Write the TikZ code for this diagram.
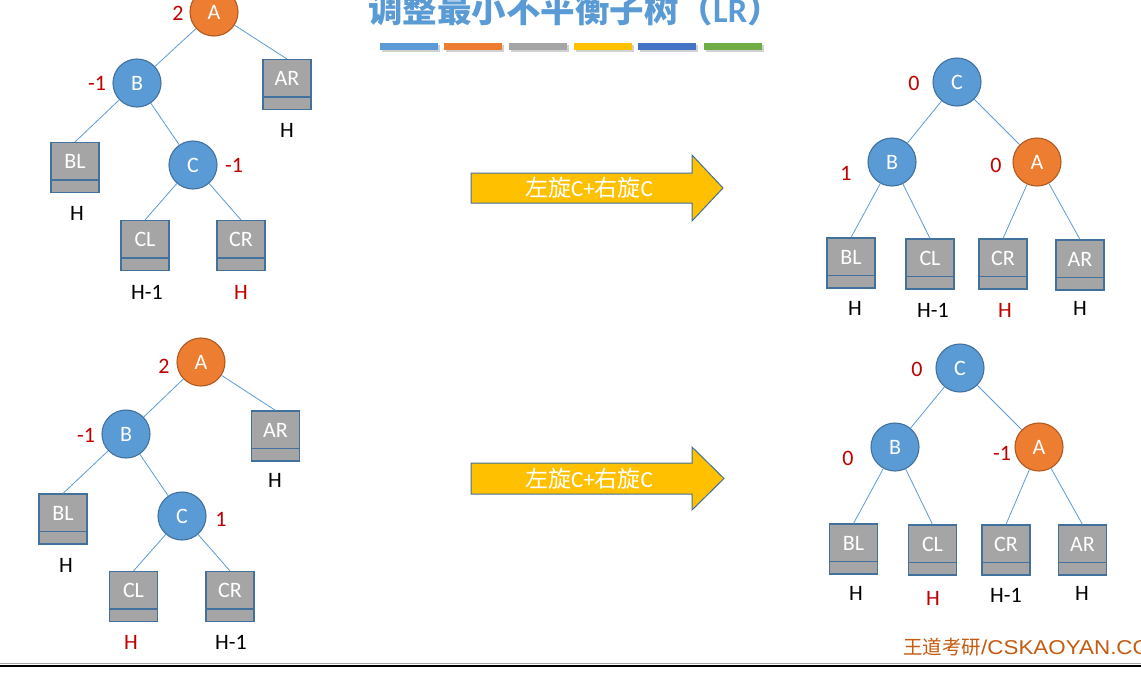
\documentclass[tikz,border=0pt]{standalone}
\usepackage{fontspec}
\setmainfont{Carlito}
\newfontfamily\cjk{Noto Sans CJK SC}
\newfontfamily\arialf[FakeStretch=1.12]{Liberation Sans}
\definecolor{nblue}{HTML}{5B9BD5}
\definecolor{nborder}{HTML}{41719C}
\definecolor{norange}{HTML}{ED7D31}
\definecolor{oborder}{HTML}{AE5A21}
\definecolor{bgray}{HTML}{A5A5A5}
\definecolor{byellow}{HTML}{FFC000}
\definecolor{bdblue}{HTML}{4472C4}
\definecolor{bgreen}{HTML}{70AD47}
\definecolor{bfred}{HTML}{C00000}
\definecolor{wdbrown}{HTML}{C55A11}
\begin{document}
\begin{tikzpicture}[
  x=1pt, y=-1pt,
  every node/.style={font=\fontsize{22}{26}\selectfont, inner sep=0pt},
  nodeb/.style={circle, minimum size=48pt, inner sep=0pt, fill=nblue, draw=nborder, line width=1.1pt, text=white},
  nodeo/.style={nodeb, fill=norange, draw=oborder},
  subtree/.style={rectangle, minimum width=48pt, minimum height=50pt, inner sep=0pt,
    fill=bgray, draw=nborder, line width=1.1pt, text=white, text height=14pt, text depth=12pt,
    path picture={\draw[nborder, line width=1.1pt]
      ([yshift=12.5pt]path picture bounding box.south west) --
      ([yshift=12.5pt]path picture bounding box.south east);}},
  edge/.style={draw=nblue, line width=0.8pt},
  bal/.style={text=bfred},
  hblack/.style={text=black},
  hred/.style={text=bfred},
  bigarrow/.style={fill=byellow, draw=nborder, line width=1pt},
  arrowtext/.style={text=white, font=\fontsize{23}{27}\selectfont},
]
\useasboundingbox (0,0) rectangle (1141,681);
\clip (0,0) rectangle (1141,681);

% title
\node[anchor=base, text=nblue, font=\fontsize{34.5}{38}\selectfont\bfseries] (title) at (575,22.5)
  {{\cjk 调整最小不平衡子树（}LR{\cjk ）}};
% colour bars
\foreach \xa/\col in {380/nblue, 444/norange, 509/bgray, 574/byellow, 638/bdblue, 704/bgreen}{
  \fill[black, opacity=0.18] (\xa+1.5,44.5) rectangle (\xa+59.5,51.5);
  \fill[\col] (\xa,43) rectangle (\xa+58,50);
}

% ---------- top-left tree ----------
\node[nodeo] (tlA) at (214,12) {A};
\node[nodeb] (tlB) at (137,83) {B};
\node[subtree] (tlAR) at (287,84.5) {AR};
\node[subtree] (tlBL) at (75,167.5) {BL};
\node[nodeb] (tlC) at (193,165) {C};
\node[subtree] (tlCL) at (145,245.5) {CL};
\node[subtree] (tlCR) at (241,245.5) {CR};
\node[bal] (tlAb) at (178,13) {2};
\node[bal] (tlBb) at (97,83) {-1};
\node[bal] (tlCb) at (234,165) {-1};
\node[hblack] (tlARh) at (287,130) {H};
\node[hblack] (tlBLh) at (77,213) {H};
\node[hblack] (tlCLh) at (147,292) {H-1};
\node[hred] (tlCRh) at (241,292) {H};
\draw[edge] (tlA) -- (tlB);
\draw[edge] (tlA) -- (tlAR.north);
\draw[edge] (tlB) -- (tlBL.north);
\draw[edge] (tlB) -- (tlC);
\draw[edge] (tlC) -- (tlCL.north);
\draw[edge] (tlC) -- (tlCR.north);

% ---------- top-right tree ----------
\node[nodeb] (trC) at (957,82) {C};
\node[nodeb] (trB) at (892,162) {B};
\node[nodeo] (trA) at (1037,162) {A};
\node[subtree] (trBL) at (851,263) {BL};
\node[subtree] (trCL) at (930,264) {CL};
\node[subtree] (trCR) at (1003,264) {CR};
\node[subtree] (trAR) at (1080,265) {AR};
\node[bal] (trCb) at (914,83) {0};
\node[bal] (trBb) at (846,173) {1};
\node[bal] (trAb) at (996,165) {0};
\node[hblack] (trBLh) at (855,308) {H};
\node[hblack] (trCLh) at (933,310) {H-1};
\node[hred] (trCRh) at (1005,310) {H};
\node[hblack] (trARh) at (1080,308) {H};
\draw[edge] (trC) -- (trB);
\draw[edge] (trC) -- (trA);
\draw[edge] (trB) -- (trBL.north);
\draw[edge] (trB) -- (trCL.north);
\draw[edge] (trA) -- (trCR.north);
\draw[edge] (trA) -- (trAR.north);

% ---------- bottom-left tree ----------
\node[nodeo] (blA) at (201,362) {A};
\node[nodeb] (blB) at (126,434) {B};
\node[subtree] (blAR) at (275.5,436) {AR};
\node[subtree] (blBL) at (63,519) {BL};
\node[nodeb] (blC) at (182,516) {C};
\node[subtree] (blCL) at (133.5,596.5) {CL};
\node[subtree] (blCR) at (230,596.5) {CR};
\node[bal] (blAb) at (164,366) {2};
\node[bal] (blBb) at (86,435) {-1};
\node[bal] (blCb) at (221,519) {1};
\node[hblack] (blARh) at (275,480) {H};
\node[hblack] (blBLh) at (66,565) {H};
\node[hred] (blCLh) at (131,642) {H};
\node[hblack] (blCRh) at (231,642) {H-1};
\draw[edge] (blA) -- (blB);
\draw[edge] (blA) -- (blAR.north);
\draw[edge] (blB) -- (blBL.north);
\draw[edge] (blB) -- (blC);
\draw[edge] (blC) -- (blCL.north);
\draw[edge] (blC) -- (blCR.north);

% ---------- bottom-right tree ----------
\node[nodeb] (brC) at (960,368) {C};
\node[nodeb] (brB) at (895,447) {B};
\node[nodeo] (brA) at (1039,447) {A};
\node[subtree] (brBL) at (853.5,549) {BL};
\node[subtree] (brCL) at (932.5,550) {CL};
\node[subtree] (brCR) at (1006,550) {CR};
\node[subtree] (brAR) at (1082.5,550) {AR};
\node[bal] (brCb) at (917,369) {0};
\node[bal] (brBb) at (848,458) {0};
\node[bal] (brAb) at (1002,453) {-1};
\node[hblack] (brBLh) at (856,593) {H};
\node[hred] (brCLh) at (933,598) {H};
\node[hblack] (brCRh) at (1006,595) {H-1};
\node[hblack] (brARh) at (1082,593) {H};
\draw[edge] (brC) -- (brB);
\draw[edge] (brC) -- (brA);
\draw[edge] (brB) -- (brBL.north);
\draw[edge] (brB) -- (brCL.north);
\draw[edge] (brA) -- (brCR.north);
\draw[edge] (brA) -- (brAR.north);

% ---------- arrows ----------
\draw[bigarrow] (471,173) -- (692,173) -- (692,155) -- (723,188) -- (692,221) -- (692,203) -- (471,203) -- cycle;
\node[arrowtext] (arr1) at (589,188) {{\cjk 左旋}C+{\cjk 右旋}C};
\draw[bigarrow] (471,463) -- (692,463) -- (692,447) -- (724,478.5) -- (692,510) -- (692,494) -- (471,494) -- cycle;
\node[arrowtext] (arr2) at (589,479) {{\cjk 左旋}C+{\cjk 右旋}C};

% ---------- footer ----------
\node[anchor=west, text=wdbrown, font=\fontsize{19.5}{22}\selectfont] (brand) at (903,647)
  {{\cjk 王道考研}{\arialf\fontsize{20}{22}\selectfont /CSKAOYAN.COM}};
\draw[gray!70, line width=1.3pt] (0,663.5) -- (1141,663.5);
\draw[black, line width=2.6pt] (0,666) -- (1141,666);
\end{tikzpicture}
\end{document}
